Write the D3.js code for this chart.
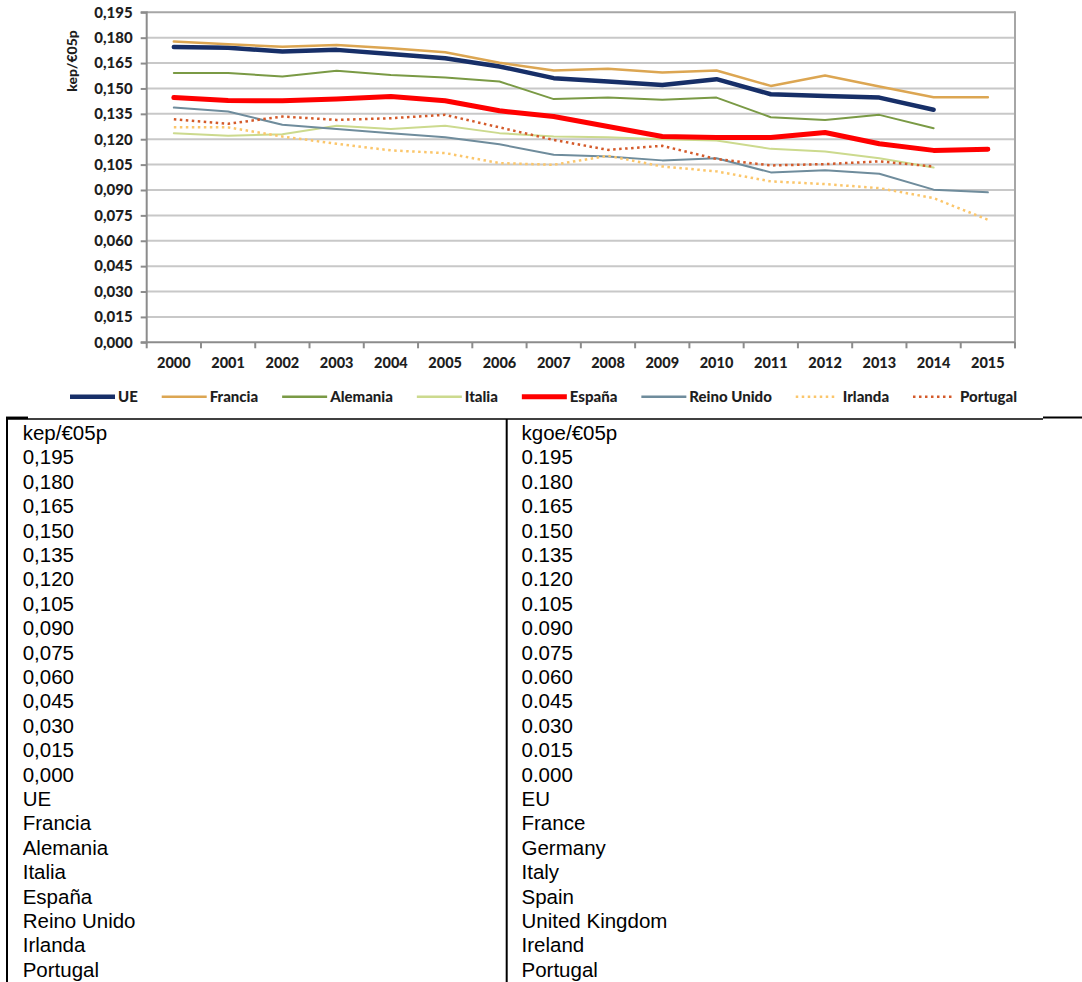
<!DOCTYPE html>
<html><head><meta charset="utf-8">
<script src="https://cdn.jsdelivr.net/npm/d3@7"></script>
<style>body{margin:0;background:#fff;} svg{display:block;}</style>
</head><body>
<svg id="chart" width="1082" height="982"></svg>
<script>
// ---------- data ----------
const years = ["2000","2001","2002","2003","2004","2005","2006","2007","2008","2009","2010","2011","2012","2013","2014","2015"];
const yTicks = [0,0.015,0.030,0.045,0.060,0.075,0.090,0.105,0.120,0.135,0.150,0.165,0.180,0.195];
const yTickLabels = ["0,000","0,015","0,030","0,045","0,060","0,075","0,090","0,105","0,120","0,135","0,150","0,165","0,180","0,195"];
const yTickLabelsEN = ["0.000","0.015","0.030","0.045","0.060","0.075","0.090","0.105","0.120","0.135","0.150","0.165","0.180","0.195"];
const unitES = "kep/€05p";
const unitEN = "kgoe/€05p";
const seriesNames = ["UE","Francia","Alemania","Italia","España","Reino Unido","Irlanda","Portugal"];
const seriesNamesEN = ["EU","France","Germany","Italy","Spain","United Kingdom","Ireland","Portugal"];
const UE        = [0.1745,0.1741,0.1718,0.1728,0.1704,0.1679,0.1630,0.1561,0.1541,0.1521,0.1555,0.1466,0.1456,0.1446,0.1374,null];
const Francia   = [0.1777,0.1761,0.1747,0.1757,0.1738,0.1714,0.1652,0.1606,0.1616,0.1594,0.1606,0.1515,0.1576,0.1511,0.1448,0.1448];
const Alemania  = [0.1592,0.1592,0.1570,0.1604,0.1580,0.1565,0.1541,0.1437,0.1446,0.1433,0.1446,0.1330,0.1314,0.1344,0.1265,null];
const Italia    = [0.1236,0.1220,0.1230,0.1279,0.1260,0.1279,0.1236,0.1216,0.1212,0.1200,0.1193,0.1143,0.1128,0.1088,0.1033,null];
const Espana    = [0.1446,0.1429,0.1427,0.1437,0.1452,0.1427,0.1368,0.1334,0.1275,0.1216,0.1210,0.1210,0.1240,0.1173,0.1134,0.1141];
const ReinoUnido= [0.1387,0.1364,0.1285,0.1260,0.1236,0.1212,0.1170,0.1108,0.1098,0.1075,0.1088,0.1004,0.1016,0.0996,0.0902,0.0886];
const Irlanda   = [0.1271,0.1270,0.1216,0.1173,0.1134,0.1118,0.1059,0.1049,0.1102,0.1039,0.1010,0.0951,0.0935,0.0911,0.0852,0.0724];
const Portugal  = [0.1318,0.1291,0.1334,0.1314,0.1324,0.1344,0.1270,0.1196,0.1137,0.1161,0.1083,0.1045,0.1053,0.1069,0.1039,null];
const seriesValues = [UE,Francia,Alemania,Italia,Espana,ReinoUnido,Irlanda,Portugal];

// ---------- styles ----------
const styles = [
  {color:"#172F68", width:4.5, dash:null},
  {color:"#DCA652", width:2.5, dash:null},
  {color:"#7A9A45", width:2,   dash:null},
  {color:"#CCDA8E", width:2,   dash:null},
  {color:"#FF0000", width:5,   dash:null},
  {color:"#6F8C9C", width:2,   dash:null},
  {color:"#FBC66B", width:2.5, dash:"2.5,3.5"},
  {color:"#D45A2A", width:2.5, dash:"2.5,3.5"}
];
const chartFont = "Lato, 'DejaVu Sans', sans-serif";
const tableFont = "'Liberation Sans', Arial, sans-serif";

const svg = d3.select("#chart");
const L = 146.7, R = 1015, T = 12.3, B = 342.3;

const x = d3.scaleBand().domain(years).range([L, R]).padding(0);
const y = d3.scaleLinear().domain([0, 0.195]).range([B, T]);
const cx = d => x(d) + x.bandwidth() / 2;

// gridlines
svg.append("g").selectAll("line").data(yTicks.filter(t => t > 0)).join("line")
  .attr("x1", L).attr("x2", R).attr("y1", d => y(d)).attr("y2", d => y(d))
  .attr("stroke", d => d === 0.195 ? "#A6A6A6" : "#C8C8C8").attr("stroke-width", 2);
// right border
svg.append("line").attr("x1", R).attr("x2", R).attr("y1", T - 1).attr("y2", B + 6)
  .attr("stroke", "#A6A6A6").attr("stroke-width", 2);

// y axis
const yAxis = d3.axisLeft(y).tickValues(yTicks).tickSize(6).tickPadding(8)
  .tickFormat((d, i) => yTickLabels[i]);
const gy = svg.append("g").attr("transform", `translate(${L},0)`).call(yAxis);
gy.select(".domain").attr("stroke", "#8C8C8C").attr("stroke-width", 2).attr("d", `M-6,${T}H0V${B}H-6`);
gy.selectAll(".tick line").attr("stroke", "#8C8C8C").attr("stroke-width", 2);
gy.selectAll(".tick text").attr("font-family", chartFont).attr("font-weight", "900")
  .attr("font-size", 15).attr("fill", "#1E1E1E");

// x axis
const xAxis = d3.axisBottom(x).tickSize(0).tickPadding(15);
const gx = svg.append("g").attr("transform", `translate(0,${B})`).call(xAxis);
gx.select(".domain").attr("stroke", "#8C8C8C").attr("stroke-width", 2).attr("d", `M${L},0H${R}`);
gx.selectAll(".tick text").attr("font-family", chartFont).attr("font-weight", "900")
  .attr("font-size", 14.5).attr("fill", "#1E1E1E");
// boundary ticks
svg.append("g").selectAll("line").data(years.concat(["_end"])).join("line")
  .attr("x1", d => d === "_end" ? R : x(d)).attr("x2", d => d === "_end" ? R : x(d))
  .attr("y1", B).attr("y2", B + 6).attr("stroke", "#8C8C8C").attr("stroke-width", 2);

// y title
svg.append("text").attr("transform", "translate(72,61) rotate(-90)")
  .attr("text-anchor", "middle").attr("dy", "0.35em")
  .attr("font-family", chartFont).attr("font-weight", "900").attr("font-size", 14)
  .attr("fill", "#1E1E1E").text(unitES);

// lines
const line = d3.line().defined(d => d.v !== null).x(d => cx(d.year)).y(d => y(d.v));
seriesValues.forEach((vals, i) => {
  const pts = years.map((yr, j) => ({year: yr, v: vals[j]}));
  const st = styles[i];
  svg.append("path").datum(pts).attr("d", line).attr("fill", "none")
    .attr("stroke", st.color).attr("stroke-width", st.width)
    .attr("stroke-linejoin", "round").attr("stroke-linecap", st.dash ? "butt" : "round")
    .attr("stroke-dasharray", st.dash);
});

// legend (spread between 70 and 1017)
const legY = 396.7, legL = 70, legR = 1017;
const leg = svg.append("g");
const items = seriesNames.map((name, i) => {
  const st = styles[i];
  const len = st.dash ? 40 : 45;
  const gap = st.dash ? 7 : 3;
  const ln = leg.append("line").attr("y1", legY).attr("y2", legY)
    .attr("stroke", st.color).attr("stroke-width", st.width === 5 ? 5 : (st.width > 4 ? 4.5 : 2.5))
    .attr("stroke-dasharray", st.dash);
  const t = leg.append("text").attr("y", legY).attr("dy", "0.35em")
    .attr("font-family", chartFont).attr("font-weight", "900").attr("font-size", 15)
    .attr("fill", "#1E1E1E").text(name);
  return {ln, t, len, gap, w: t.node().getComputedTextLength()};
});
const used = d3.sum(items, d => d.len + d.gap + d.w);
const between = (legR - legL - used) / (items.length - 1);
let cursor = legL;
items.forEach(d => {
  d.ln.attr("x1", cursor).attr("x2", cursor + d.len);
  d.t.attr("x", cursor + d.len + d.gap);
  cursor += d.len + d.gap + d.w + between;
});

// table
const tableTop = 419, colX1 = 7, colX2 = 506.7;
svg.append("line").attr("x1", colX1 - 1).attr("x2", 1043).attr("y1", tableTop).attr("y2", tableTop)
  .attr("stroke", "#000").attr("stroke-width", 1.5);
svg.append("line").attr("x1", colX1 - 1).attr("x2", 28).attr("y1", tableTop - 1.2).attr("y2", tableTop - 1.2)
  .attr("stroke", "#000").attr("stroke-width", 2.5);
svg.append("line").attr("x1", 1043).attr("x2", 1082).attr("y1", tableTop - 1.5).attr("y2", tableTop - 1.5)
  .attr("stroke", "#000").attr("stroke-width", 2);
[colX1, colX2].forEach(cxp => {
  svg.append("line").attr("x1", cxp).attr("x2", cxp).attr("y1", tableTop).attr("y2", 982)
    .attr("stroke", "#000").attr("stroke-width", 2);
});
const col1 = [unitES].concat(yTickLabels.slice().reverse(), seriesNames);
const col2 = [unitEN].concat(yTickLabelsEN.slice().reverse(), seriesNamesEN);
const rowY = d3.scaleLinear().domain([0, 1]).range([440, 440 + 24.4]);
[[col1, 22.7], [col2, 521.5]].forEach(([col, tx]) => {
  svg.append("g").selectAll("text").data(col).join("text")
    .attr("x", tx).attr("y", (d, i) => rowY(i))
    .attr("font-family", tableFont).attr("font-size", 20.5).attr("fill", "#000").text(d => d);
});
</script>
</body></html>
